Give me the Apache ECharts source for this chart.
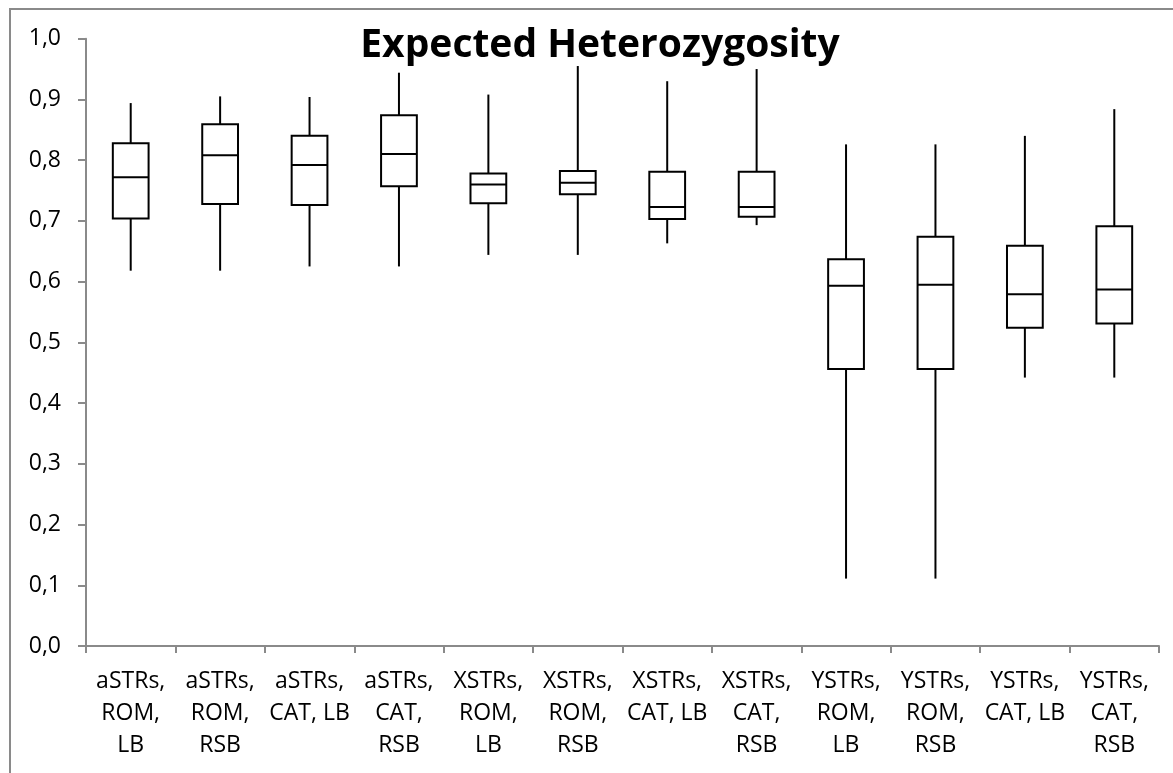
<!DOCTYPE html>
<html>
<head>
<meta charset="utf-8">
<script src="https://cdn.jsdelivr.net/npm/echarts@6/dist/echarts.min.js"></script>
<style>
html,body{margin:0;padding:0;background:#fff;overflow:hidden;}
#frame{position:absolute;left:9px;top:8px;width:1300px;height:900px;border-left:2px solid #8a8a8a;border-top:2px solid #8a8a8a;}
#chart{position:absolute;left:0;top:0;width:1173px;height:773px;}
</style>
</head>
<body>
<div id="frame"></div>
<div id="chart"></div>
<script>
var categories = [
  'aSTRs,\nROM,\nLB', 'aSTRs,\nROM,\nRSB', 'aSTRs,\nCAT, LB', 'aSTRs,\nCAT,\nRSB',
  'XSTRs,\nROM,\nLB', 'XSTRs,\nROM,\nRSB', 'XSTRs,\nCAT, LB', 'XSTRs,\nCAT,\nRSB',
  'YSTRs,\nROM,\nLB', 'YSTRs,\nROM,\nRSB', 'YSTRs,\nCAT, LB', 'YSTRs,\nCAT,\nRSB'
];
var lows    = [0.618, 0.618, 0.625, 0.625, 0.644, 0.644, 0.663, 0.693, 0.111, 0.111, 0.442, 0.442];
var q1s     = [0.704, 0.728, 0.726, 0.757, 0.729, 0.744, 0.703, 0.707, 0.456, 0.456, 0.524, 0.531];
var medians = [0.772, 0.808, 0.792, 0.810, 0.760, 0.763, 0.723, 0.723, 0.593, 0.595, 0.579, 0.587];
var q3s     = [0.828, 0.859, 0.840, 0.874, 0.778, 0.782, 0.781, 0.781, 0.637, 0.674, 0.659, 0.691];
var highs   = [0.894, 0.905, 0.904, 0.944, 0.908, 0.955, 0.930, 0.950, 0.826, 0.826, 0.840, 0.884];
var titleText = 'Expected Heterozygosity';

var boxData = categories.map(function (c, i) {
  return [i, lows[i], q1s[i], medians[i], q3s[i], highs[i]];
});

function renderBox(params, api) {
  var idx = api.value(0);
  var pLow = api.coord([idx, api.value(1)]);
  var pQ1 = api.coord([idx, api.value(2)]);
  var pMed = api.coord([idx, api.value(3)]);
  var pQ3 = api.coord([idx, api.value(4)]);
  var pHigh = api.coord([idx, api.value(5)]);
  var bw = api.size([1, 0])[0] * 0.4;
  var x = pMed[0];
  var st = {stroke: '#000', lineWidth: 2, fill: null};
  return {
    type: 'group',
    children: [
      {type: 'line', shape: {x1: x, y1: pHigh[1], x2: x, y2: pQ3[1]}, style: st},
      {type: 'line', shape: {x1: x, y1: pQ1[1], x2: x, y2: pLow[1]}, style: st},
      {type: 'rect', shape: {x: x - bw / 2, y: pQ3[1], width: bw, height: pQ1[1] - pQ3[1]},
        style: {stroke: '#000', lineWidth: 2, fill: '#fff'}},
      {type: 'line', shape: {x1: x - bw / 2, y1: pMed[1], x2: x + bw / 2, y2: pMed[1]}, style: st}
    ]
  };
}

var chart = echarts.init(document.getElementById('chart'), null, {renderer: 'canvas'});
chart.setOption({
  backgroundColor: 'transparent',
  animation: false,
  title: {
    text: titleText,
    left: 595,
    textAlign: 'center',
    top: 21,
    textStyle: {fontFamily: 'Open Sans', fontWeight: 'bold', fontSize: 39, color: '#000'}
  },
  grid: {left: 86, right: 14, top: 38.7, bottom: 127, containLabel: false},
  xAxis: {
    type: 'category',
    data: categories,
    boundaryGap: true,
    axisLine: {show: true, lineStyle: {color: '#8a8a8a', width: 2}},
    axisTick: {show: true, length: 7, lineStyle: {color: '#8a8a8a', width: 2}},
    axisLabel: {
      interval: 0, margin: 19, color: '#000',
      fontFamily: 'Open Sans', fontSize: 23, lineHeight: 32, align: 'center'
    },
    splitLine: {show: false}
  },
  yAxis: {
    type: 'value',
    min: 0, max: 1, interval: 0.1,
    axisLine: {show: true, lineStyle: {color: '#8a8a8a', width: 2}},
    axisTick: {show: true, length: 8, lineStyle: {color: '#8a8a8a', width: 2}},
    axisLabel: {
      margin: 25, color: '#000', fontFamily: 'Open Sans', fontSize: 23,
      formatter: function (v) { return v.toFixed(1).replace('.', ','); }
    },
    splitLine: {show: false}
  },
  series: [{
    type: 'custom',
    renderItem: renderBox,
    data: boxData,
    encode: {x: 0, y: [1, 2, 3, 4, 5]},
    z: 5
  }]
});
</script>
</body>
</html>
